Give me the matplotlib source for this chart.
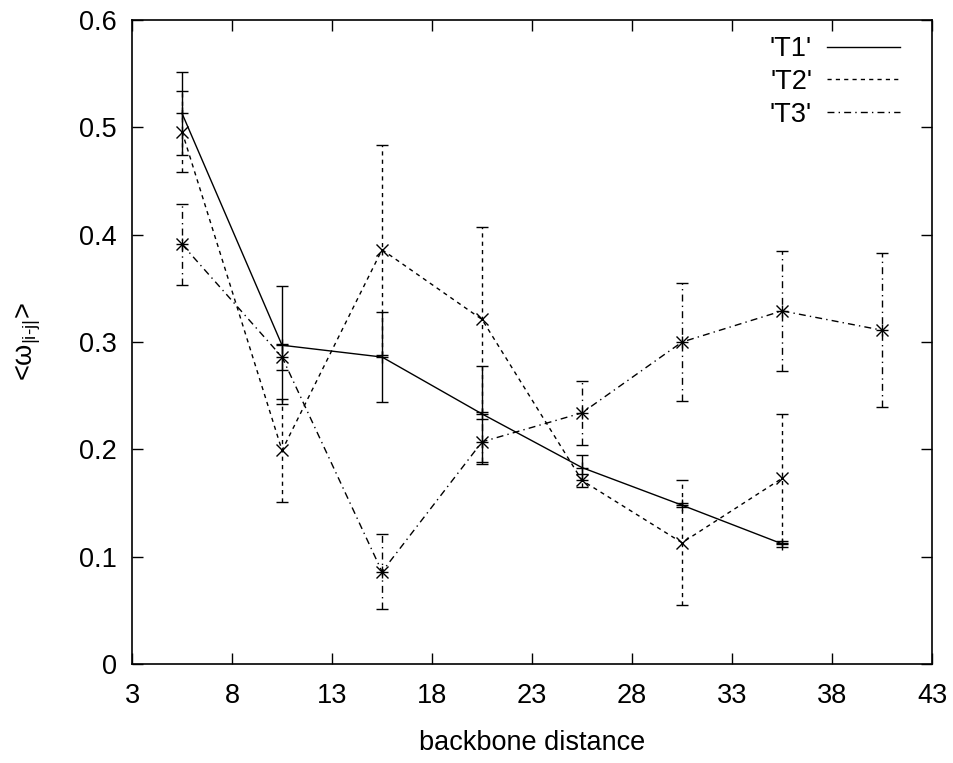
import matplotlib.pyplot as plt
from matplotlib.lines import Line2D

plt.rcParams['font.family'] = ['Liberation Sans', 'DejaVu Sans']
plt.rcParams['mathtext.fontset'] = 'custom'
plt.rcParams['mathtext.rm'] = 'Liberation Sans'
plt.rcParams['mathtext.it'] = 'Liberation Sans'

# Data
t1_x = [5.5, 10.5, 15.5, 20.5, 25.5, 30.5, 35.5]
t1_y = [0.513, 0.297, 0.286, 0.233, 0.183, 0.148, 0.112]
t1_err = [0.039, 0.055, 0.042, 0.045, 0.012, 0.002, 0.003]

t2_x = [5.5, 10.5, 15.5, 20.5, 25.5, 30.5, 35.5]
t2_y = [0.496, 0.199, 0.386, 0.321, 0.171, 0.113, 0.173]
t2_err = [0.038, 0.048, 0.098, 0.086, 0.006, 0.058, 0.060]

t3_x = [5.5, 10.5, 15.5, 20.5, 25.5, 30.5, 35.5, 40.5]
t3_y = [0.391, 0.286, 0.086, 0.207, 0.234, 0.300, 0.329, 0.311]
t3_err = [0.038, 0.012, 0.035, 0.021, 0.030, 0.055, 0.056, 0.072]

labels = ["'T1'", "'T2'", "'T3'"]
x_ticks = [3, 8, 13, 18, 23, 28, 33, 38, 43]
y_ticks = [0, 0.1, 0.2, 0.3, 0.4, 0.5, 0.6]
y_ticklabels = ['0', '0.1', '0.2', '0.3', '0.4', '0.5', '0.6']

styles = ['-', (0, (3, 3)), (0, (5, 3, 1, 3))]

fig = plt.figure(figsize=(9.54, 7.63), dpi=100)
ax = fig.add_axes([0.1384, 0.1297, 0.8386, 0.8441])

series = [(t1_x, t1_y, t1_err, ['+']),
          (t2_x, t2_y, t2_err, ['x']),
          (t3_x, t3_y, t3_err, ['+', 'x'])]

handles = []
for (xs, ys, es, markers), ls, lab in zip(series, styles, labels):
    ax.plot(xs, ys, color='black', lw=1.0, linestyle=ls)
    eb = ax.errorbar(xs, ys, yerr=es, fmt='none', ecolor='black',
                     elinewidth=1.0, capsize=4, capthick=1.0)
    for line in eb[2]:
        line.set_linestyle(ls)
    for m in markers:
        ax.plot(xs, ys, linestyle='none', marker=m, color='black',
                markersize=9, markeredgewidth=1.0)
    handles.append(Line2D([], [], color='black', lw=1.0, linestyle=ls, label=lab))

ax.set_xlim(3, 43)
ax.set_ylim(0, 0.6)
ax.set_xticks(x_ticks)
ax.set_yticks(y_ticks)
ax.set_yticklabels(y_ticklabels)
ax.tick_params(direction='in', length=8, width=1.0, top=True, right=True,
               labelsize=19.5)
ax.tick_params(axis='x', pad=14)
ax.tick_params(axis='y', pad=11)
for s in ax.spines.values():
    s.set_linewidth(1.2)

ax.set_xlabel('backbone distance', fontsize=19.5, labelpad=15)
ax.set_ylabel(r'<$\omega_{\mathregular{|i\text{-}j|}}$>', fontsize=19.5, labelpad=26)

ax.legend(handles=handles, loc='upper right', frameon=False, markerfirst=False,
          fontsize=19.5, handlelength=2.7, handletextpad=0.55, labelspacing=0.25,
          borderaxespad=0, borderpad=0, bbox_to_anchor=(0.96, 0.975))

fig.savefig('out.png', dpi=100)
